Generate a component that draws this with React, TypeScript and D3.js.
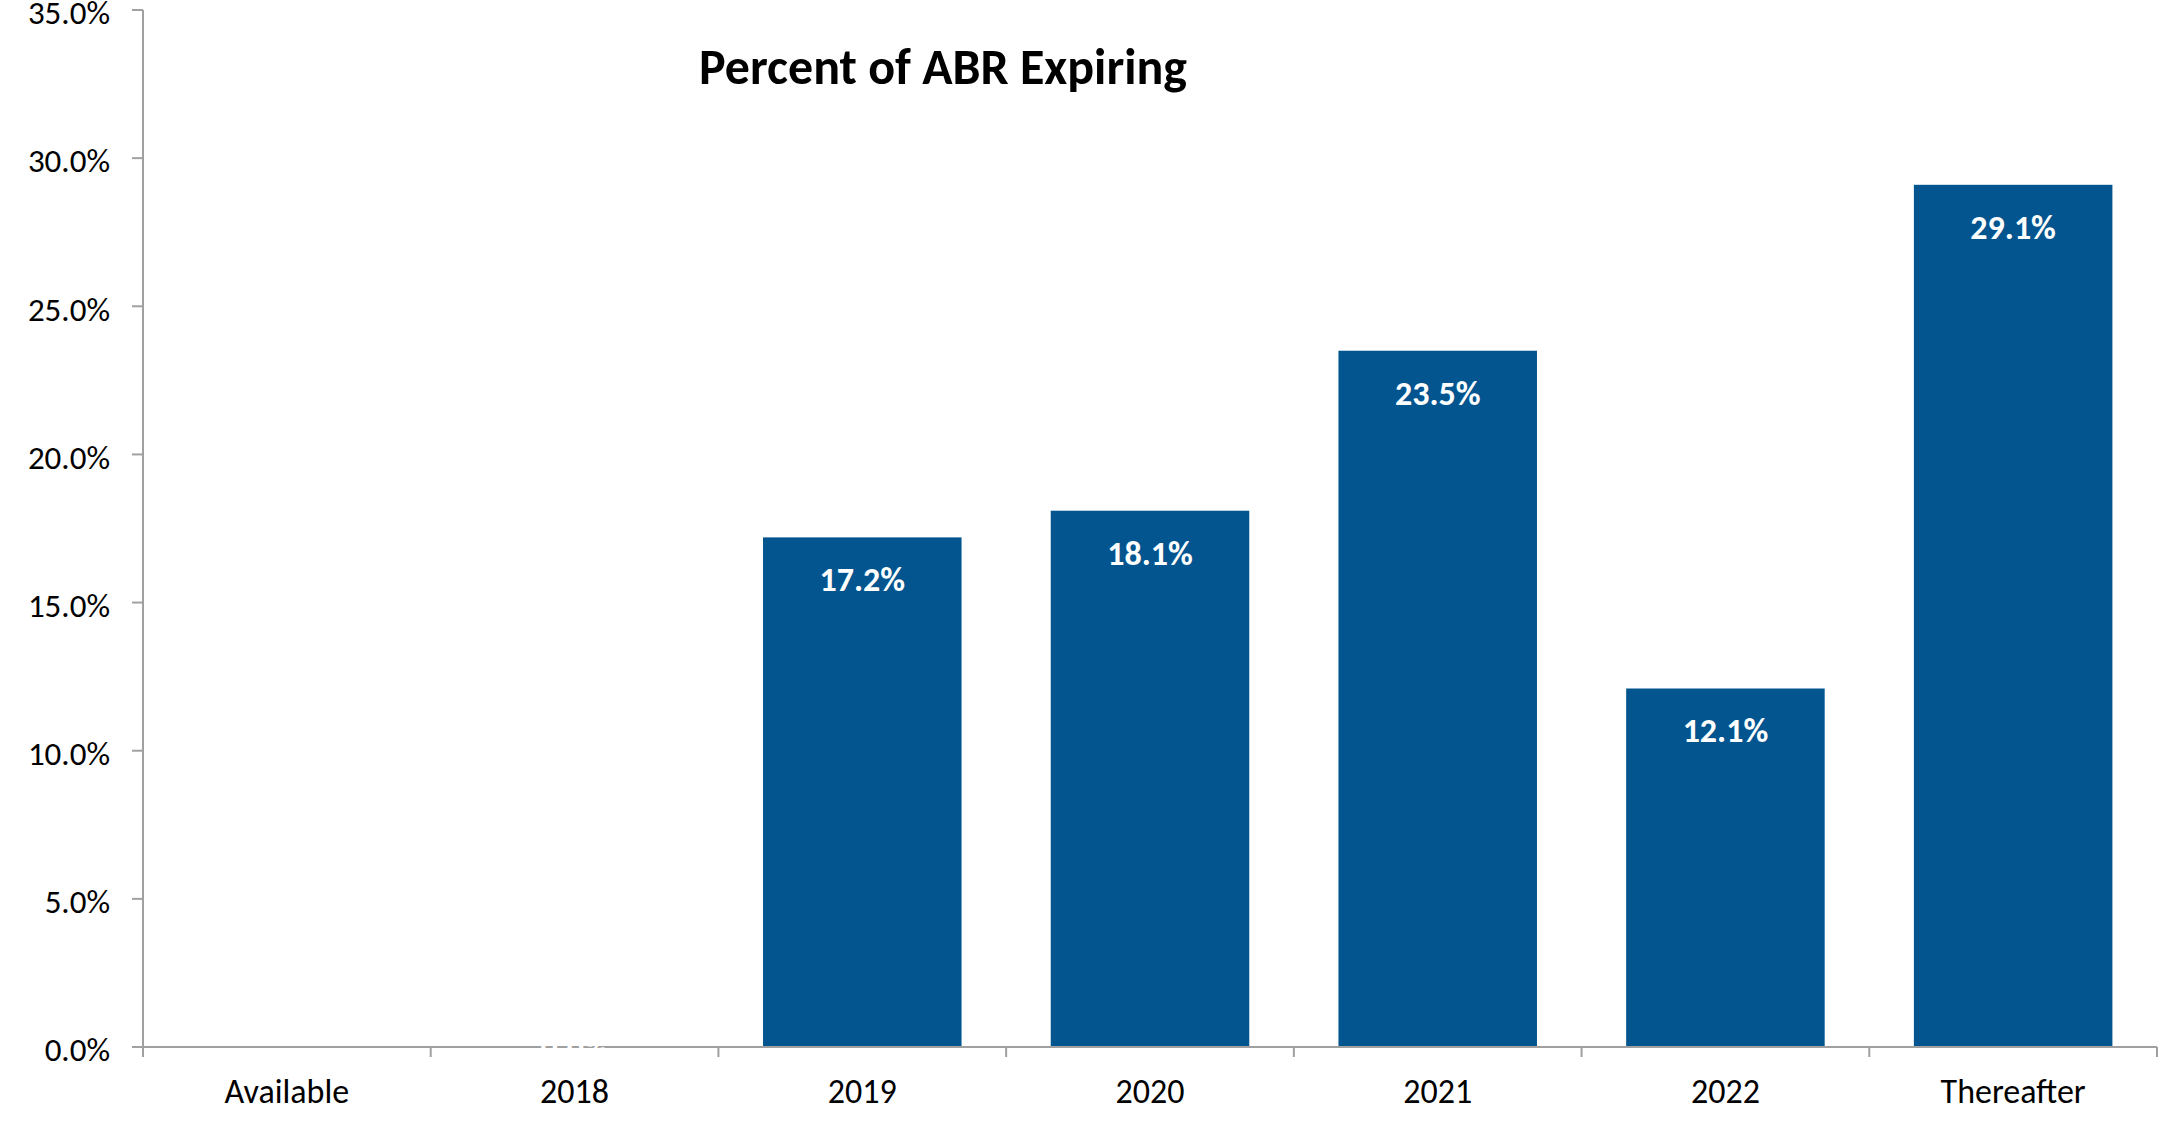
import React, { useEffect } from "react";
import * as d3 from "d3";

const categories = ["Available", "2018", "2019", "2020", "2021", "2022", "Thereafter"];
const values = [null, 0.0, 17.2, 18.1, 23.5, 12.1, 29.1];
const yTicks = [0, 5, 10, 15, 20, 25, 30, 35];
const title = "Percent of ABR Expiring";

const width = 2160;
const height = 1123;
const margin = { top: 10, right: 3, bottom: 76, left: 143 };
const barColor = "#03558f";
const axisColor = "#a0a0a0";
const font = "Carlito, Calibri, Lato, sans-serif";

const fmt = (v: number) => `${v.toFixed(1)}%`;

const App: React.FC = () => {
  useEffect(() => {
    document.body.style.margin = "0";
  }, []);

  const x = d3
    .scaleBand<string>()
    .domain(categories)
    .range([margin.left, width - margin.right])
    .paddingInner(0.31)
    .paddingOuter(0.155);

  const y = d3
    .scaleLinear()
    .domain([0, 35])
    .range([height - margin.bottom, margin.top]);

  const y0 = y(0);
  const step = x.step();
  const xStart = margin.left;

  return (
    <svg width={width} height={height} style={{ display: "block", background: "#fff" }}>
      {/* bars */}
      {categories.map((c, i) => {
        const v = values[i];
        if (v == null) return null;
        return (
          <rect
            key={c}
            x={x(c)}
            y={y(v)}
            width={x.bandwidth()}
            height={y0 - y(v)}
            fill={barColor}
          />
        );
      })}

      {/* y axis */}
      <line x1={xStart} x2={xStart} y1={y(35)} y2={y0 + 10} stroke={axisColor} strokeWidth={2} />
      {yTicks.map((t) => (
        <g key={t}>
          <line x1={xStart - 11} x2={xStart} y1={y(t)} y2={y(t)} stroke={axisColor} strokeWidth={2} />
          <text
            x={110}
            y={y(t) + 3}
            dy="0.34em"
            textAnchor="end"
            fontFamily={font}
            fontSize={33}
            fill="#000"
          >
            {fmt(t)}
          </text>
        </g>
      ))}

      {/* x axis */}
      <line x1={xStart} x2={width - margin.right} y1={y0} y2={y0} stroke={axisColor} strokeWidth={2} />
      {d3.range(categories.length + 1).map((i) => (
        <line
          key={i}
          x1={xStart + i * step}
          x2={xStart + i * step}
          y1={y0}
          y2={y0 + 10}
          stroke={axisColor}
          strokeWidth={2}
        />
      ))}
      {categories.map((c) => (
        <text
          key={c}
          x={(x(c) ?? 0) + x.bandwidth() / 2}
          y={1103}
          textAnchor="middle"
          fontFamily={font}
          fontSize={34}
          fill="#000"
        >
          {c}
        </text>
      ))}

      {/* value labels */}
      {categories.map((c, i) => {
        const v = values[i];
        if (v == null) return null;
        const ly = Math.min(y(v) + 54, y0 + 12);
        return (
          <text
            key={c}
            x={(x(c) ?? 0) + x.bandwidth() / 2}
            y={ly}
            textAnchor="middle"
            fontFamily={font}
            fontSize={34}
            fontWeight="bold"
            fill="#fff"
          >
            {fmt(v)}
          </text>
        );
      })}

      {/* title */}
      <text
        x={943}
        y={84}
        textAnchor="middle"
        fontFamily={font}
        fontSize={50}
        fontWeight="bold"
        fill="#000"
      >
        {title}
      </text>
    </svg>
  );
};

export default App;
